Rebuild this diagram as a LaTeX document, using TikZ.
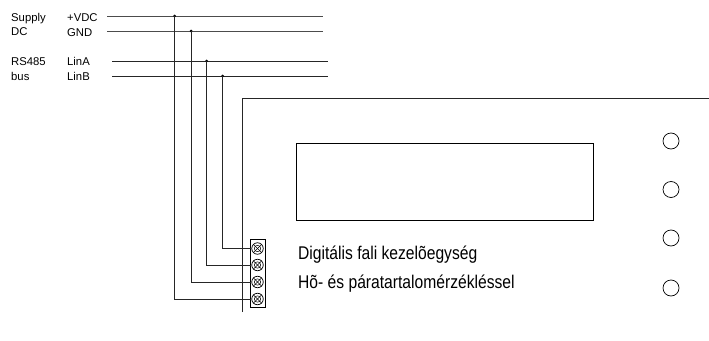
\documentclass[tikz,border=0pt]{standalone}
\usepackage{fontspec}
\setmainfont{Liberation Sans}
\newfontfamily\narrowfont[FakeStretch=0.85]{Liberation Sans}
\tikzset{
  wire/.style={line width=0.9pt,draw=black!85},
  lbl/.style={inner sep=0pt,anchor=base west,font=\fontsize{11.3}{12}\selectfont},
  big/.style={inner sep=0pt,anchor=base west,font=\narrowfont\fontsize{18.4}{20}\selectfont},
  junction/.style={circle,fill=black,inner sep=0pt,minimum size=3pt},
  knob/.style={circle,draw=black,line width=0.7pt,inner sep=0pt,minimum size=16pt},
  screw/.style={circle,draw=black,line width=0.7pt,inner sep=0pt,minimum size=11.5pt}
}
\begin{document}
\begin{tikzpicture}[x=1pt,y=-1pt]
\useasboundingbox (0,0) rectangle (709,340);
\node[lbl] at (11,21) {Supply};
\node[lbl] at (11,35) {DC};
\node[lbl] at (11,65) {RS485};
\node[lbl] at (11,80) {bus};
\node[lbl] at (67,21) {+VDC};
\node[lbl] at (67,36.5) {GND};
\node[lbl] at (67,65) {LinA};
\node[lbl] at (67,80.5) {LinB};
% bus ends
\coordinate (v1) at (107,16); \coordinate (v2) at (323,16);
\coordinate (g1) at (107,31); \coordinate (g2) at (323,31);
\coordinate (a1) at (112,61); \coordinate (a2) at (328,61);
\coordinate (b1) at (112,76); \coordinate (b2) at (328,76);
\draw[wire,draw=black!70] (v1) -- (v2);
\draw[wire,draw=black!70] (g1) -- (g2);
\draw[wire] (a1) -- (a2);
\draw[wire] (b1) -- (b2);
\node[junction] (jv) at (174.5,16) {};
\node[junction] (jg) at (191,31) {};
\node[junction] (ja) at (206.5,61) {};
\node[junction] (jb) at (222.5,76) {};
% terminal block
\node[draw=black,line width=0.7pt,inner sep=0pt,minimum width=15pt,minimum height=67.5pt] (tb) at (257.5,273.5) {};
\foreach \n/\y in {1/248.5,2/265,3/282,4/299}{
  \node[screw] (s\n) at (257.5,\y) {};
  \draw[line width=0.6pt] (s\n.north west) -- (s\n.south east);
  \draw[line width=0.6pt] (s\n.north east) -- (s\n.south west);
  \draw[line width=0.5pt] (257.5,\y) circle (3.2pt);
}
\draw[wire] (jb.center) |- (s1.west);
\draw[wire] (ja.center) |- (s2.west);
\draw[wire] (jg.center) |- (s3.west);
\draw[wire] (jv.center) |- (s4.west);
% panel
\coordinate (p0) at (242.5,312); \coordinate (p1) at (242.5,98.5); \coordinate (p2) at (709,98.5);
\draw[wire] (p0) -- (p1) -- (p2);
\node[draw=black,line width=0.8pt,inner sep=0pt,minimum width=297pt,minimum height=77pt] (lcd) at (445,181.5) {};
\foreach \n/\y in {1/141,2/189.5,3/238,4/288}{
  \node[knob] (k\n) at (671,\y) {};
}
\node[big] at (298,259.5) {Digitális fali kezelõegység};
\node[big] at (298,288) {Hõ- és páratartalomérzékléssel};
\end{tikzpicture}
\end{document}
